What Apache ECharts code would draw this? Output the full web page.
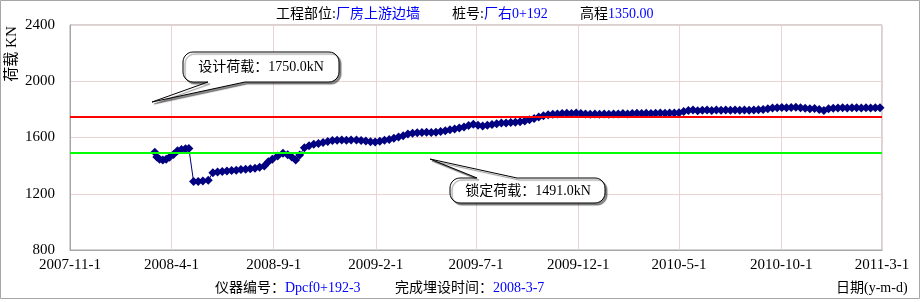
<!DOCTYPE html>
<html>
<head>
<meta charset="utf-8">
<script src="https://cdn.jsdelivr.net/npm/echarts@6/dist/echarts.min.js"></script>
<style>
  html, body { margin: 0; padding: 0; background: #fff; }
  #chart { width: 922px; height: 302px; }
</style>
</head>
<body>
<div id="chart"></div>
<script>
// measurement dates (y-m-d) and anchor load readings (kN)
const dates = [
  '2008-3-7', '2008-3-10', '2008-3-14', '2008-3-19', '2008-3-24', '2008-3-29', '2008-4-4', '2008-4-10',
  '2008-4-16', '2008-4-22', '2008-4-27', '2008-5-4', '2008-5-11', '2008-5-18', '2008-5-26', '2008-6-2',
  '2008-6-9', '2008-6-16', '2008-6-23', '2008-6-30', '2008-7-7', '2008-7-14', '2008-7-21', '2008-7-28',
  '2008-8-4', '2008-8-11', '2008-8-18', '2008-8-24', '2008-8-30', '2008-9-7', '2008-9-15', '2008-9-22',
  '2008-9-28', '2008-10-4', '2008-10-10', '2008-10-17', '2008-10-24', '2008-10-31', '2008-11-7', '2008-11-14',
  '2008-11-21', '2008-11-28', '2008-12-5', '2008-12-12', '2008-12-19', '2008-12-26', '2009-1-3', '2009-1-10',
  '2009-1-17', '2009-1-24', '2009-1-31', '2009-2-7', '2009-2-14', '2009-2-21', '2009-2-28', '2009-3-7',
  '2009-3-14', '2009-3-21', '2009-3-28', '2009-4-4', '2009-4-11', '2009-4-18', '2009-4-25', '2009-5-2',
  '2009-5-9', '2009-5-16', '2009-5-23', '2009-5-30', '2009-6-6', '2009-6-13', '2009-6-20', '2009-6-27',
  '2009-7-4', '2009-7-11', '2009-7-18', '2009-7-25', '2009-8-1', '2009-8-8', '2009-8-15', '2009-8-22',
  '2009-8-29', '2009-9-5', '2009-9-12', '2009-9-19', '2009-9-26', '2009-10-3', '2009-10-10', '2009-10-17',
  '2009-10-24', '2009-10-31', '2009-11-7', '2009-11-14', '2009-11-21', '2009-11-28', '2009-12-5', '2009-12-12',
  '2009-12-19', '2009-12-26', '2010-1-2', '2010-1-9', '2010-1-16', '2010-1-23', '2010-1-30', '2010-2-6',
  '2010-2-13', '2010-2-20', '2010-2-27', '2010-3-6', '2010-3-13', '2010-3-20', '2010-3-27', '2010-4-3',
  '2010-4-10', '2010-4-17', '2010-4-24', '2010-5-1', '2010-5-8', '2010-5-15', '2010-5-22', '2010-5-29',
  '2010-6-5', '2010-6-12', '2010-6-19', '2010-6-26', '2010-7-3', '2010-7-10', '2010-7-17', '2010-7-24',
  '2010-7-31', '2010-8-7', '2010-8-14', '2010-8-21', '2010-8-28', '2010-9-4', '2010-9-11', '2010-9-18',
  '2010-9-25', '2010-10-2', '2010-10-9', '2010-10-16', '2010-10-23', '2010-10-30', '2010-11-6', '2010-11-13',
  '2010-11-20', '2010-11-27', '2010-12-4', '2010-12-11', '2010-12-18', '2010-12-25', '2011-1-1', '2011-1-8',
  '2011-1-15', '2011-1-22', '2011-1-29', '2011-2-5', '2011-2-12', '2011-2-19', '2011-2-26'
];
const loads = [
  1495, 1462, 1445, 1440, 1445, 1460, 1480, 1505,
  1515, 1520, 1522, 1288, 1288, 1290, 1296, 1350,
  1355, 1358, 1362, 1365, 1368, 1372, 1375, 1378,
  1382, 1388, 1398, 1428, 1445, 1468, 1488, 1478,
  1462, 1440, 1475, 1528, 1542, 1552, 1558, 1565,
  1572, 1578, 1580, 1582, 1580, 1582, 1582, 1578,
  1576, 1570, 1568, 1574, 1580, 1586, 1595, 1603,
  1612, 1625, 1630, 1634, 1636, 1637, 1636, 1638,
  1642, 1648, 1655, 1660, 1668, 1675, 1685, 1695,
  1688, 1682, 1688, 1692, 1698, 1703, 1704, 1706,
  1708, 1712, 1718, 1726, 1735, 1745, 1755, 1762,
  1766, 1768, 1770, 1772, 1770, 1775, 1770, 1768,
  1766, 1768, 1766, 1768, 1765, 1767, 1768, 1770,
  1768, 1770, 1772, 1770, 1772, 1770, 1772, 1774,
  1772, 1775, 1774, 1776, 1785, 1792, 1795, 1790,
  1794, 1796, 1792, 1795, 1793, 1795, 1794, 1796,
  1794, 1795, 1793, 1796, 1798, 1800, 1805, 1810,
  1812, 1814, 1812, 1813, 1815, 1812, 1808, 1805,
  1806, 1800, 1792, 1805, 1808, 1810, 1812, 1810,
  1812, 1811, 1810, 1812, 1810, 1812, 1811
];
const tickDates = ['2007-11-1', '2008-4-1', '2008-9-1', '2009-2-1', '2009-7-1',
  '2009-12-1', '2010-5-1', '2010-10-1', '2011-3-1'];
const yMin = 800;
const yMax = 2400;
const yStep = 400;
const designLoad = 1750;
const lockLoad = 1491;

const FONT = "'Liberation Serif', 'Noto Sans CJK SC', serif";
const toTime = s => +echarts.time.parse(s);
const tickValues = tickDates.map(toTime);

const fmtDate = v => {
  const d = new Date(v);
  return d.getFullYear() + '-' + (d.getMonth() + 1) + '-' + d.getDate();
};

// quarter-circle corner points
const corner = (cx, cy, r, a0) => {
  const pts = [];
  for (let k = 0; k <= 6; k++) {
    const a = a0 + (k / 6) * Math.PI / 2;
    pts.push([cx + r * Math.cos(a), cy + r * Math.sin(a)]);
  }
  return pts;
};

// rounded box with a pointed tail on its bottom or top edge
const calloutPoints = (x, y, w, h, r, b1, b2, tx, ty, onTop) => {
  const R = x + w, B = y + h;
  let pts = [];
  pts = pts.concat(corner(x + r, y + r, r, Math.PI));          // top-left
  if (onTop) pts.push([b1, y], [tx, ty], [b2, y]);
  pts = pts.concat(corner(R - r, y + r, r, -Math.PI / 2));     // top-right
  pts = pts.concat(corner(R - r, B - r, r, 0));                // bottom-right
  if (!onTop) pts.push([b2, B], [tx, ty], [b1, B]);
  pts = pts.concat(corner(x + r, B - r, r, Math.PI / 2));      // bottom-left
  return pts;
};

const callout = (points, text, cx, cy) => ([
  {
    type: 'polygon', z: 100,
    shape: { points },
    style: { fill: '#fff', stroke: '#000', lineWidth: 1,
      shadowColor: 'rgba(0,0,0,0.45)', shadowOffsetX: 2, shadowOffsetY: 2, shadowBlur: 1 }
  },
  {
    type: 'text', z: 101, x: cx, y: cy,
    style: { text, font: '14px ' + FONT, fill: '#000', align: 'center', verticalAlign: 'middle' }
  }
]);

const pairText = (x, y, key, val) => ({
  type: 'text', x, y,
  style: {
    text: `{k|${key}}{v|${val}}`,
    verticalAlign: 'middle',
    rich: {
      k: { font: '14px ' + FONT, fill: '#000' },
      v: { font: '14px ' + FONT, fill: '#0000ff' }
    }
  }
});

const chart = echarts.init(document.getElementById('chart'));

chart.setOption({
  animation: false,
  backgroundColor: '#fff',
  grid: {
    left: 70, right: 40, top: 25, bottom: 52,
    show: true, borderColor: '#a6a6a6', borderWidth: 1
  },
  xAxis: {
    type: 'value',
    min: tickValues[0],
    max: tickValues[tickValues.length - 1],
    axisLine: { lineStyle: { color: '#a6a6a6' } },
    axisTick: { show: false, customValues: tickValues },
    axisLabel: {
      customValues: tickValues,
      formatter: fmtDate,
      color: '#000',
      fontFamily: FONT,
      fontSize: 15,
      margin: 8,
      showMinLabel: true,
      showMaxLabel: true
    },
    splitLine: { show: true, lineStyle: { color: '#ebd3d3', width: 1 } }
  },
  yAxis: {
    type: 'value',
    min: yMin,
    max: yMax,
    interval: yStep,
    axisLine: { show: true, lineStyle: { color: '#a6a6a6' } },
    axisTick: { show: false },
    axisLabel: { color: '#000', fontFamily: FONT, fontSize: 15, margin: 15, formatter: v => String(v) },
    splitLine: { lineStyle: { color: '#ebd3d3', width: 1 } }
  },
  series: [
    {
      type: 'line',
      data: [],
      silent: true,
      z: 1,
      markLine: {
        silent: true,
        symbol: 'none',
        label: { show: false },
        data: [
          { yAxis: designLoad, lineStyle: { color: '#ff0000', width: 2, type: 'solid' } },
          { yAxis: lockLoad, lineStyle: { color: '#00ff00', width: 2, type: 'solid' } }
        ]
      }
    },
    {
      type: 'line',
      z: 3,
      data: dates.map((d, i) => [toTime(d), loads[i]]),
      symbol: 'diamond',
      symbolSize: 9,
      showAllSymbol: true,
      lineStyle: { color: '#000080', width: 1 },
      itemStyle: { color: '#000080', borderColor: '#000080', borderWidth: 0 }
    }
  ],
  graphic: [
    { type: 'rect', shape: { x: 0.5, y: 0.5, width: 919, height: 298 },
      style: { fill: 'none', stroke: '#a6a6a6', lineWidth: 1 } },
    pairText(276, 14, '工程部位:', '厂房上游边墙'),
    pairText(452, 14, '桩号:', '厂右0+192'),
    pairText(580, 14, '高程', '1350.00'),
    {
      type: 'text', x: 12, y: 54, rotation: Math.PI / 2,
      style: { text: '荷载 KN', font: '15px ' + FONT, fill: '#000', align: 'center', verticalAlign: 'middle' }
    },
    pairText(215, 288, '仪器编号：', 'Dpcf0+192-3'),
    pairText(395, 288, '完成埋设时间：', '2008-3-7'),
    { type: 'text', x: 836, y: 288,
      style: { text: '日期(y-m-d)', font: '14px ' + FONT, fill: '#000', verticalAlign: 'middle' } },
    ...callout(calloutPoints(183, 52, 156, 30, 10, 208, 245, 152, 102, false), '设计荷载：1750.0kN', 261, 67),
    ...callout(calloutPoints(450, 178, 155, 25, 10, 477, 517, 430, 159, true), '锁定荷载：1491.0kN', 528, 191)
  ]
});
</script>
</body>
</html>
